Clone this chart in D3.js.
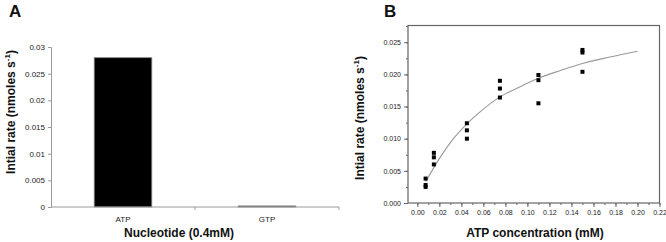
<!DOCTYPE html>
<html>
<head>
<meta charset="utf-8">
<script src="https://cdn.jsdelivr.net/npm/d3@7"></script>
<style>
  body { margin: 0; background: #fff; }
  svg { display: block; font-family: 'Liberation Sans', Arial, sans-serif; }
</style>
</head>
<body>
<div id="svg-container"></div>
<script>
// Panel A: initial rate by nucleotide
const nucleotides = ['ATP', 'GTP']
const nucleotideRates = [0.028, 0.0002]
const rateTicksA = [0, 0.005, 0.01, 0.015, 0.02, 0.025, 0.03]

// Panel B: initial rate vs ATP concentration
const atpConc = [0.0075, 0.0075, 0.0075, 0.015, 0.015, 0.015, 0.045, 0.045, 0.045,
  0.075, 0.075, 0.075, 0.11, 0.11, 0.11, 0.15, 0.15, 0.15]
const atpRates = [0.0038, 0.0028, 0.0025, 0.0078, 0.0071, 0.006, 0.0124, 0.0113, 0.01,
  0.019, 0.0178, 0.0164, 0.0199, 0.0191, 0.0155, 0.0238, 0.0234, 0.0204]
// fitted curve
const fitConc = [0.0075, 0.02, 0.03, 0.045, 0.06, 0.075, 0.09, 0.11, 0.13, 0.15, 0.175, 0.2]
const fitRates = [0.0033, 0.0069, 0.0094, 0.0123, 0.0146, 0.0165, 0.0178, 0.0194, 0.0206, 0.0217, 0.0227, 0.0236]
const concTicks = [0, 0.02, 0.04, 0.06, 0.08, 0.1, 0.12, 0.14, 0.16, 0.18, 0.2, 0.22]
const rateTicksB = [0, 0.005, 0.01, 0.015, 0.02, 0.025]

const svg = d3.select('#svg-container')
  .append('svg')
  .attr('width', 666)
  .attr('height', 242)

const axisGrey = '#9a9a9a'

// y title with superscript
const yTitle = (g, x, y) => {
  const t = g.append('text')
    .attr('transform', `translate(${x}, ${y}) rotate(-90)`)
    .attr('text-anchor', 'middle')
    .style('font-size', '12px')
    .style('font-weight', 700)
    .attr('fill', '#111')
  t.append('tspan').text('Intial rate (nmoles s')
  t.append('tspan').text('-1').attr('dy', -5).style('font-size', '8px')
  t.append('tspan').text(')').attr('dy', 5)
}

// ---------- Panel A ----------
const gA = svg.append('g')
gA.append('text').text('A')
  .attr('x', 9).attr('y', 17)
  .style('font-size', '17px')
  .style('font-weight', 600)
  .attr('fill', '#111')

const yA = d3.scaleLinear().domain([0, 0.03]).range([207, 47])
const xA = d3.scaleBand().domain(nucleotides).range([51, 339])

gA.append('g')
  .attr('transform', 'translate(51, 0)')
  .call(d3.axisLeft(yA).tickValues(rateTicksA).tickSize(3).tickPadding(3)
    .tickFormat(d => (d === 0 ? '0' : d3.format('')(+d.toFixed(3)))))
  .attr('font-family', null)
  .call(g => g.selectAll('path, line').attr('stroke', axisGrey))
  .call(g => g.selectAll('text').style('font-size', '8px').attr('fill', '#222'))

gA.selectAll('.bar')
  .data(nucleotides)
  .join('rect')
  .attr('class', 'bar')
  .attr('x', d => xA(d) + xA.bandwidth() * 0.3)
  .attr('width', xA.bandwidth() * 0.4)
  .attr('y', (d, i) => yA(nucleotideRates[i]))
  .attr('height', (d, i) => yA(0) - yA(nucleotideRates[i]))
  .attr('fill', '#000')
  .attr('stroke', '#888')
  .attr('stroke-width', 0.8)

// x axis: line with ticks at category boundaries
const xAxisA = gA.append('g')
xAxisA.append('line')
  .attr('x1', 51).attr('x2', 339)
  .attr('y1', yA(0)).attr('y2', yA(0))
  .attr('stroke', axisGrey)
xAxisA.selectAll('.bound')
  .data([xA.step() + 51, 339])
  .join('line')
  .attr('x1', d => d).attr('x2', d => d)
  .attr('y1', yA(0)).attr('y2', yA(0) + 3)
  .attr('stroke', axisGrey)
xAxisA.selectAll('.cat')
  .data(nucleotides)
  .join('text')
  .attr('x', d => xA(d) + xA.bandwidth() / 2)
  .attr('y', 222)
  .attr('text-anchor', 'middle')
  .style('font-size', '8px')
  .attr('fill', '#222')
  .text(d => d)

gA.append('text')
  .text('Nucleotide (0.4mM)')
  .attr('x', 179).attr('y', 237)
  .attr('text-anchor', 'middle')
  .style('font-size', '12px')
  .style('font-weight', 700)
  .attr('fill', '#111')

yTitle(gA, 15, 112)

// ---------- Panel B ----------
const gB = svg.append('g')
gB.append('text').text('B')
  .attr('x', 384).attr('y', 17)
  .style('font-size', '17px')
  .style('font-weight', 600)
  .attr('fill', '#111')

const xB = d3.scaleLinear().domain([-0.0085, 0.22]).range([408, 659.5])
const yB = d3.scaleLinear().domain([0, 0.0276]).range([203, 25.5])

const frameColor = '#666'

gB.append('rect')
  .attr('x', xB.range()[0]).attr('y', yB.range()[1])
  .attr('width', xB.range()[1] - xB.range()[0])
  .attr('height', yB.range()[0] - yB.range()[1])
  .attr('fill', 'none')
  .attr('stroke', frameColor)
  .attr('stroke-width', 1.2)

const minorX = d3.range(0, 0.221, 0.01).map(v => +v.toFixed(3))
gB.append('g')
  .attr('transform', `translate(0, ${yB.range()[0]})`)
  .call(d3.axisBottom(xB).tickValues(minorX).tickSize(2).tickFormat(''))
  .call(g => g.select('.domain').remove())
  .call(g => g.selectAll('line').attr('stroke', frameColor))
gB.append('g')
  .attr('transform', `translate(0, ${yB.range()[0]})`)
  .call(d3.axisBottom(xB).tickValues(concTicks).tickSize(4).tickPadding(3)
    .tickFormat(d3.format('.2f')))
  .attr('font-family', null)
  .call(g => g.select('.domain').remove())
  .call(g => g.selectAll('line').attr('stroke', frameColor))
  .call(g => g.selectAll('text').style('font-size', '7px').attr('fill', '#222'))

const minorY = d3.range(0, 0.0276, 0.0025).map(v => +v.toFixed(4))
gB.append('g')
  .attr('transform', `translate(${xB.range()[0]}, 0)`)
  .call(d3.axisLeft(yB).tickValues(minorY).tickSize(2).tickFormat(''))
  .call(g => g.select('.domain').remove())
  .call(g => g.selectAll('line').attr('stroke', frameColor))
gB.append('g')
  .attr('transform', `translate(${xB.range()[0]}, 0)`)
  .call(d3.axisLeft(yB).tickValues(rateTicksB).tickSize(4).tickPadding(3)
    .tickFormat(d3.format('.3f')))
  .attr('font-family', null)
  .call(g => g.select('.domain').remove())
  .call(g => g.selectAll('line').attr('stroke', frameColor))
  .call(g => g.selectAll('text').style('font-size', '7px').attr('fill', '#222'))

gB.append('path')
  .datum(fitConc.map((c, i) => [c, fitRates[i]]))
  .attr('d', d3.line().x(d => xB(d[0])).y(d => yB(d[1])).curve(d3.curveMonotoneX))
  .attr('fill', 'none')
  .attr('stroke', '#999')
  .attr('stroke-width', 1.1)

const sq = 4
gB.selectAll('.pt')
  .data(atpConc.map((c, i) => [c, atpRates[i]]))
  .join('rect')
  .attr('class', 'pt')
  .attr('x', d => xB(d[0]) - sq / 2)
  .attr('y', d => yB(d[1]) - sq / 2)
  .attr('width', sq).attr('height', sq)
  .attr('fill', '#000')

gB.append('text')
  .text('ATP concentration (mM)')
  .attr('x', 535).attr('y', 237)
  .attr('text-anchor', 'middle')
  .style('font-size', '12px')
  .style('font-weight', 700)
  .attr('fill', '#111')

yTitle(gB, 364, 118)
</script>
</body>
</html>
